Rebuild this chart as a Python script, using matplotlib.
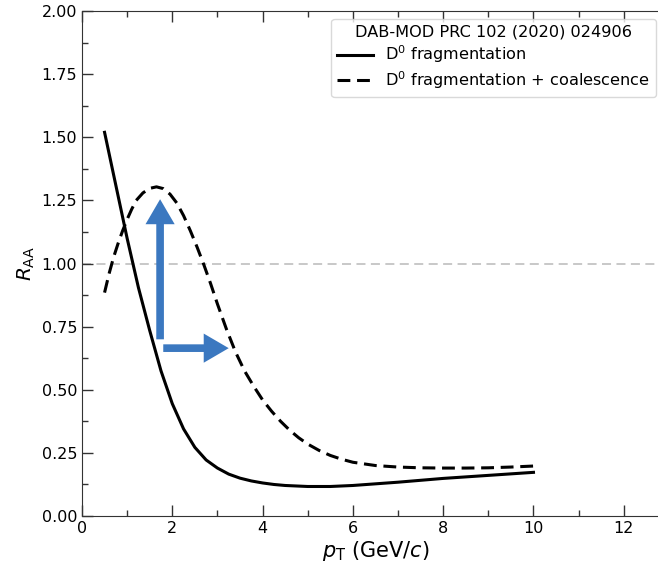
import numpy as np
import matplotlib
matplotlib.use("Agg")
from matplotlib import pyplot as plt
from matplotlib.ticker import MultipleLocator, FormatStrFormatter

# D0 fragmentation only
frag_pt = [0.5, 0.75, 1.0, 1.25, 1.5, 1.75, 2.0, 2.25, 2.5, 2.75, 3.0, 3.25, 3.5,
           3.75, 4.0, 4.25, 4.5, 5.0, 5.5, 6.0, 7.0, 8.0, 9.0, 10.0]
frag_raa = [1.52, 1.31, 1.10, 0.905, 0.735, 0.575, 0.445, 0.345, 0.272, 0.222, 0.19,
            0.166, 0.15, 0.139, 0.131, 0.125, 0.121, 0.117, 0.117, 0.121, 0.134,
            0.149, 0.161, 0.173]

# D0 fragmentation + coalescence
coal_pt = [0.5, 0.6, 0.7, 0.8, 0.9, 1.0, 1.1, 1.2, 1.35, 1.5, 1.65, 1.8, 1.95, 2.1,
           2.25, 2.4, 2.55, 2.7, 2.85, 3.0, 3.2, 3.4, 3.6, 3.8, 4.0, 4.2, 4.4, 4.6,
           4.8, 5.0, 5.25, 5.5, 5.75, 6.0, 6.5, 7.0, 7.5, 8.0, 8.5, 9.0, 9.5, 10.0]
coal_raa = [0.885, 0.96, 1.025, 1.08, 1.13, 1.175, 1.215, 1.25, 1.28, 1.298, 1.304,
            1.297, 1.275, 1.24, 1.19, 1.13, 1.065, 0.995, 0.92, 0.84, 0.74, 0.65,
            0.575, 0.515, 0.46, 0.415, 0.375, 0.34, 0.31, 0.285, 0.26, 0.24, 0.225,
            0.213, 0.2, 0.194, 0.191, 0.19, 0.19, 0.191, 0.194, 0.198]

legend_title = "DAB-MOD PRC 102 (2020) 024906"
labels = [r"D$^0$ fragmentation", r"D$^0$ fragmentation + coalescence"]

fig = plt.figure(figsize=(6.58, 5.66), dpi=100)
ax = fig.add_axes([0.1246, 0.0883, 0.892, 0.892])

ax.axhline(1.0, color="#c4c4c4", ls=(0, (5, 3)), lw=1.3, zorder=1)
ax.plot(frag_pt, frag_raa, color="black", lw=2.2, label=labels[0])
ax.plot(coal_pt, coal_raa, color="black", lw=2.2, ls=(0, (4.2, 2.2)), label=labels[1])

# blue arrows
blue = "#3b78c0"
astyle = "simple,head_width=2.1,head_length=1.8,tail_width=0.55"
ax.annotate("", xy=(1.73, 1.255), xytext=(1.73, 0.70),
            arrowprops=dict(arrowstyle=astyle, color=blue, lw=0,
                            shrinkA=0, shrinkB=0, mutation_scale=10))
ax.annotate("", xy=(3.25, 0.665), xytext=(1.8, 0.665),
            arrowprops=dict(arrowstyle=astyle, color=blue, lw=0,
                            shrinkA=0, shrinkB=0, mutation_scale=10))

ax.set_xlim(0, 13)
ax.set_ylim(0, 2.0)
ax.xaxis.set_major_locator(MultipleLocator(2))
ax.xaxis.set_minor_locator(MultipleLocator(1))
ax.yaxis.set_major_locator(MultipleLocator(0.25))
ax.yaxis.set_minor_locator(MultipleLocator(0.125))
ax.yaxis.set_major_formatter(FormatStrFormatter("%.2f"))
ax.tick_params(which="both", direction="in", top=True, right=True, labelsize=11.5, color="#333333")
ax.tick_params(which="major", length=8, width=1)
ax.tick_params(which="minor", length=4, width=1)
for s in ax.spines.values():
    s.set_color("#333333")

ax.set_xlabel(r"$p_{\rm T}$ (GeV/$c$)", fontsize=15, labelpad=2)
ax.set_ylabel(r"$R_{\rm AA}$", fontsize=14.5, labelpad=3)

leg = ax.legend(title=legend_title, fontsize=11.6, title_fontsize=11.6,
                loc="upper right", bbox_to_anchor=(656 / 658, 1 - 19 / 566),
                bbox_transform=fig.transFigure, borderaxespad=0, handlelength=2.2,
                frameon=True, fancybox=True, borderpad=0.35, labelspacing=0.25)
leg.get_frame().set_edgecolor("#d0d0d0")

fig.savefig("out.png", dpi=100)
